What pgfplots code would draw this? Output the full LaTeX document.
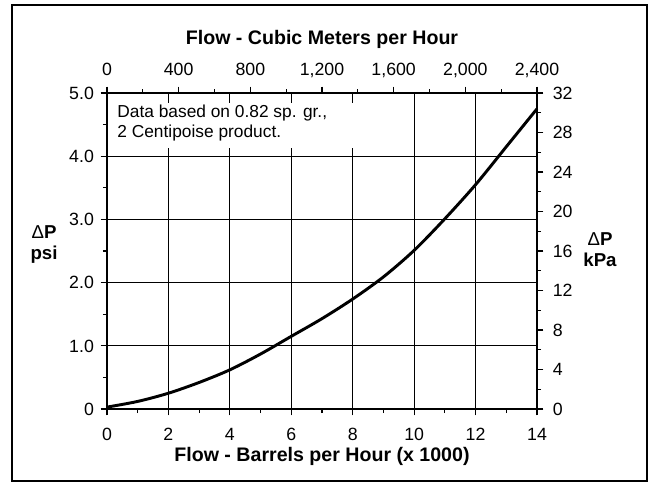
\documentclass[border=0pt]{standalone}
\usepackage{fontspec}
\setmainfont{Liberation Sans}
\usepackage{pgfplots}
\pgfplotsset{compat=1.18}
\begin{document}
\begin{tikzpicture}
\useasboundingbox (-80.25pt,-55.5pt) rectangle (406.5pt,306.75pt);
\draw[line width=2pt] (-71.25pt,-54pt) rectangle (405pt,303pt);
\pgfplotsset{
  common/.style={
    at={(0pt,0pt)}, anchor=south west,
    scale only axis, width=322.5pt, height=237pt,
    tick align=outside,
    major tick length=4.8pt, minor tick length=3pt,
    every tick/.style={black, line width=0.8pt},
    axis line style={-, line width=1.4pt},
    tick label style={font=\fontsize{13.3}{15}\selectfont, text height=9.5pt, text depth=0pt},
    /pgf/number format/assume math mode=true,
  }
}
\begin{axis}[common,
  xmin=0, xmax=14, ymin=0, ymax=5,
  axis x line*=bottom, axis y line*=left,
  xtick={0,2,...,14}, minor x tick num=1,
  ytick={0,1,2,3,4,5}, yticklabels={0,1.0,2.0,3.0,4.0,5.0}, minor y tick num=1,
  xticklabel style={yshift=-6pt},
  yticklabel style={xshift=-1.5pt},
  grid=major, major grid style={black, line width=0.6pt},
  clip=false,
]
\fill[white] (axis cs:0.04,4.13) rectangle (axis cs:8.3,4.84);
\node[anchor=base west, font=\fontsize{13}{15}\selectfont, inner sep=0pt] at (axis cs:0.33,4.62) {Data based on 0.82 sp. gr.,};
\node[anchor=base west, font=\fontsize{13}{15}\selectfont, inner sep=0pt] at (axis cs:0.33,4.29) {2 Centipoise product.};
\addplot[black, line width=2.2pt, smooth] coordinates {
 (0,0.03) (1,0.12) (2,0.25) (3,0.42) (4,0.62) (5,0.87) (6,1.15)
 (7,1.43) (8,1.74) (9,2.09) (10,2.51) (11,3.01) (12,3.55) (13,4.15) (14,4.75)
};
\end{axis}
\begin{axis}[common,
  xmin=0, xmax=2400, ymin=0, ymax=32,
  axis x line*=top, axis y line*=right,
  xtick={0,400,...,2400}, minor x tick num=1,
  ytick={0,4,...,32}, minor y tick num=1,
  xticklabel style={yshift=5pt},
  yticklabel style={xshift=3.5pt},
  /pgf/number format/1000 sep={,},
]
\addplot[draw=none] coordinates {(0,0)};
\end{axis}
\node[anchor=base, font=\bfseries\fontsize{14.7}{17}\selectfont] at (161.25pt,273pt) {Flow - Cubic Meters per Hour};
\node[anchor=base, font=\bfseries\fontsize{14.7}{17}\selectfont] at (161.25pt,-39pt) {Flow - Barrels per Hour (x 1000)};
\node[anchor=base, font=\bfseries\fontsize{14}{16}\selectfont, inner sep=0pt] at (-47.25pt,128.25pt) {{\mdseries Δ}P};
\node[anchor=base, font=\bfseries\fontsize{14}{16}\selectfont, inner sep=0pt] at (-47.25pt,112.5pt) {psi};
\node[anchor=base, font=\bfseries\fontsize{14}{16}\selectfont, inner sep=0pt] at (369.75pt,123pt) {{\mdseries Δ}P};
\node[anchor=base, font=\bfseries\fontsize{14}{16}\selectfont, inner sep=0pt] at (369.75pt,107.25pt) {kPa};
\end{tikzpicture}
\end{document}
